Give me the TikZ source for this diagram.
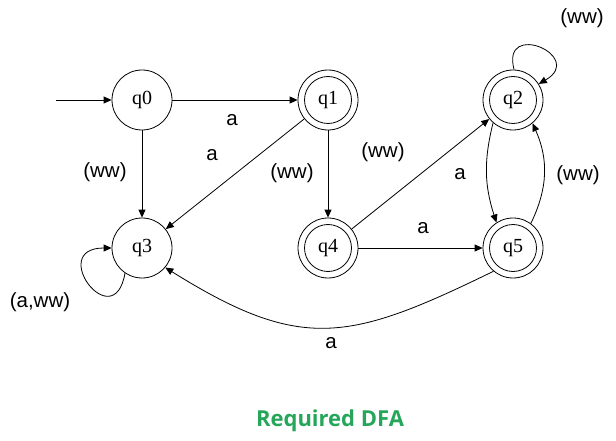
\documentclass[tikz,border=0pt]{standalone}
\usepackage{fontspec}
\setmainfont{Liberation Serif}
\newfontfamily\labfont{Liberation Sans}
\newfontfamily\titlefont{Open Sans}
\usetikzlibrary{arrows.meta}
\definecolor{titlegreen}{RGB}{38,166,91}
\begin{document}
\begin{tikzpicture}[x=1pt,y=1pt,
  state/.style={circle, draw, minimum size=60pt, inner sep=0pt, line width=0.8pt, font=\fontsize{20}{20}\selectfont},
  accept/.style={state, path picture={\draw[line width=0.8pt] (path picture bounding box.center) circle[radius=23.5pt];}},
  edge/.style={line width=0.8pt, -{Triangle[length=8pt,width=7pt]}},
  lab/.style={font=\labfont\fontsize{20.5}{20.5}\selectfont, inner sep=0pt},
]
\useasboundingbox (0,0) rectangle (616,-441);
\node[state]  (q0) at (142,-100) {q0};
\node[accept] (q1) at (328,-100) {q1};
\node[accept] (q2) at (513,-100) {q2};
\node[state]  (q3) at (142,-248) {q3};
\node[accept] (q4) at (328,-248) {q4};
\node[accept] (q5) at (513,-248) {q5};
\coordinate (start) at (56,-100);

\draw[edge] (start) -- (q0);
\draw[edge] (q0) -- (q1);
\draw[edge] (q0) -- (q3);
\draw[edge] (q1) -- (q3);
\draw[edge] (q1) -- (q4);
\draw[edge] (q4) -- (q2);
\draw[edge] (q4) -- (q5);
\draw[edge] (q2.229) to[bend right=16] (q5.123);
\draw[edge] (q5.54) to[bend right=25] (q2.-50);
\draw[edge] (q5.230) to[out=206,in=-32,looseness=1.25] (q3.-40);
\draw[edge] (q2.88) .. controls +(105:52) and +(30:55) .. (q2.32);
\draw[edge] (q3.236) .. controls +(-100:65) and +(180:65) .. (q3.180);

\node[lab] (l01) at (232,-120) {a};
\node[lab] (l03) at (105,-172) {(ww)};
\node[lab] (l13) at (212,-155) {a};
\node[lab] (l14) at (292,-173) {(ww)};
\node[lab] (l42) at (383,-152) {(ww)};
\node[lab] (l25) at (460,-174) {a};
\node[lab] (l45) at (423,-228) {a};
\node[lab] (l52) at (578,-175) {(ww)};
\node[lab] (l22) at (582,-18) {(ww)};
\node[lab] (l33) at (40,-302) {(a,ww)};
\node[lab] (l53) at (331,-343) {a};
\node[font=\titlefont\bfseries\fontsize{22}{22}\selectfont, text=titlegreen, inner sep=0pt] (title) at (330,-421) {Required DFA};
\end{tikzpicture}
\end{document}
